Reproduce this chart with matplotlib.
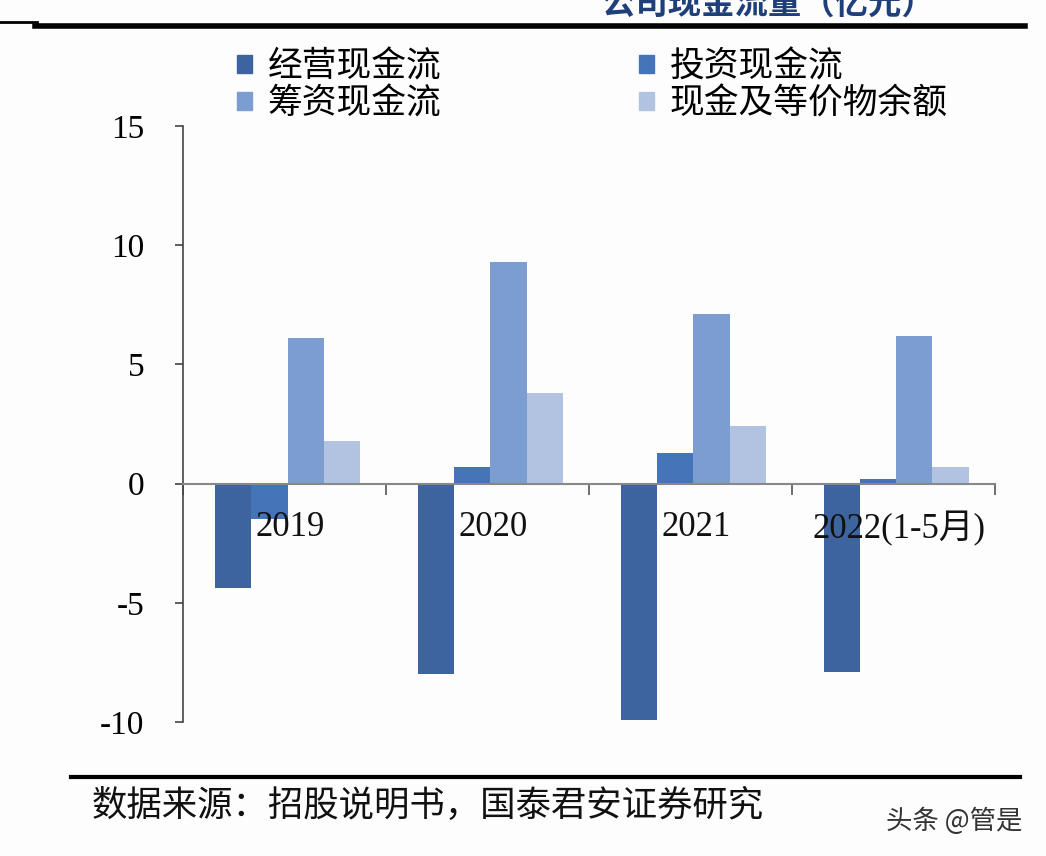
import numpy as np
import matplotlib
matplotlib.use("Agg")
import matplotlib.pyplot as plt
from matplotlib.lines import Line2D
from matplotlib.patches import Patch

plt.rcParams['font.family'] = ['Liberation Serif', 'Noto Sans CJK SC']

# data (亿元)
years = ['2019', '2020', '2021', '2022(1-5月)']
series_names = ['经营现金流', '投资现金流', '筹资现金流', '现金及等价物余额']
operating = [-4.4, -8.0, -9.9, -7.9]
investing = [-1.5, 0.7, 1.3, 0.2]
financing = [6.1, 9.3, 7.1, 6.2]
cash_end = [1.8, 3.8, 2.4, 0.7]
colors = ['#3D649E', '#4674B8', '#7C9DCF', '#B2C3E2']

fig = plt.figure(figsize=(10.46, 8.56), dpi=100)
fig.patch.set_facecolor('#FDFDFE')
ax = fig.add_axes([0.175, 0.1565, 0.776, 0.6965])
ax.set_facecolor('#FDFDFE')

x = np.arange(len(years))
w = 0.178
for k, vals in enumerate([operating, investing, financing, cash_end]):
    ax.bar(x + 0.015 + (k - 1.5) * w, vals, width=w, color=colors[k], label=series_names[k], zorder=2)

ax.set_xlim(-0.5, 3.5)
ax.set_ylim(-10, 15)
ax.set_yticks([-10, -5, 0, 5, 10, 15])
ax.set_yticklabels(['-10', '-5', '0', '5', '10', '15'], fontsize=24)
ax.tick_params(axis='y', direction='out', length=6, width=1.2, color='#444444', pad=22)

# x axis at zero with category boundary ticks
ax.spines['bottom'].set_position(('data', 0))
ax.spines['bottom'].set_color('#888888')
ax.spines['bottom'].set_linewidth(1.5)
ax.spines['left'].set_color('#444444')
ax.spines['left'].set_linewidth(1.2)
ax.spines['top'].set_visible(False)
ax.spines['right'].set_visible(False)
ax.set_xticks([-0.5, 0.5, 1.5, 2.5, 3.5])
ax.set_xticklabels([])
ax.tick_params(axis='x', direction='out', length=8, width=1.2, color='#555555')
for i, lab in enumerate(years):
    ax.annotate(lab, xy=(i + 0.03, 0), xytext=(0, -20), textcoords='offset points',
                ha='center', va='top', fontsize=25, color='#111111', zorder=5)

# legend: row 1 经营/投资, row 2 筹资/现金
handles = [Patch(color=colors[i]) for i in [0, 2, 1, 3]]
labels = [series_names[i] for i in [0, 2, 1, 3]]
fig.legend(handles, labels, ncol=2, loc='upper left', bbox_to_anchor=(0.197, 0.979),
           frameon=False, prop={'family': 'Noto Sans CJK SC', 'size': 25},
           handlelength=0.42, handleheight=0.42, handletextpad=0.45,
           columnspacing=5.7, labelspacing=0.06)

# decoration lines and texts
fig.add_artist(Line2D([0.033, 0.98], [0.970, 0.970], color='black', lw=4))
fig.add_artist(Line2D([0.0, 0.035], [0.974, 0.974], color='black', lw=2))
fig.add_artist(Line2D([0.068, 0.975], [0.092, 0.092], color='black', lw=3))
fig.text(0.735, 0.975, '公司现金流量（亿元）', ha='center', va='bottom', fontsize=24,
         color='#1F3F7A', fontweight='bold', family='Noto Sans CJK SC')
fig.text(0.088, 0.058, '数据来源：招股说明书，国泰君安证券研究', ha='left', va='center',
         fontsize=25.5, color='#111111', family='Noto Sans CJK SC')
fig.text(0.977, 0.04, '头条 @管是', ha='right', va='center', fontsize=19,
         color='#333333', family='Noto Sans CJK SC')

fig.savefig('out.png', dpi=100, facecolor=fig.get_facecolor())
